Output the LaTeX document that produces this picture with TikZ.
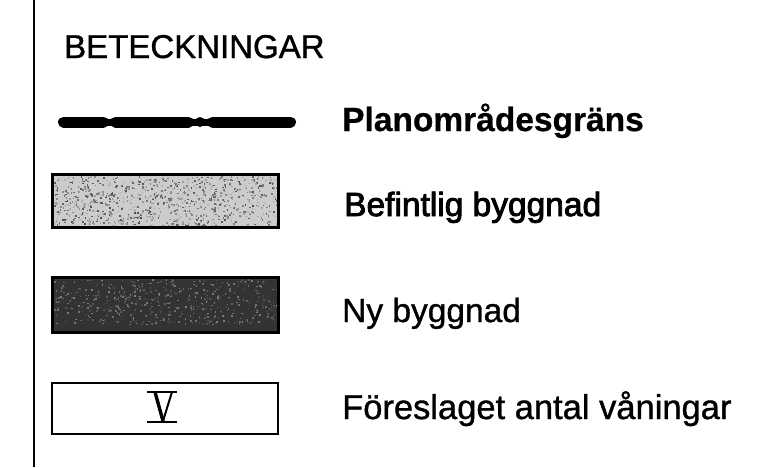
\documentclass[tikz,border=0pt]{standalone}
\usepackage{fontspec}
\setmainfont[FakeBold=1]{Liberation Sans}
\newfontfamily\lblbold[FakeBold=0.6]{Liberation Sans Bold}
\newfontfamily\lblfake[FakeBold=2.6]{Liberation Sans}
\tikzset{
  lbl/.style={anchor=base west, inner sep=0pt, font=\fontsize{33.5}{40}\selectfont},
  boxframe/.style={draw=black, line width=3pt},
}
\begin{document}
\begin{tikzpicture}[x=1pt,y=-1pt]
\useasboundingbox (0,0) rectangle (763,467);
\fill[white] (0,0) rectangle (763,467);
% left rule
\draw[line width=2pt] (34,0) -- (34,467);
% title
\node[anchor=base west, inner sep=0pt, font=\fontsize{33}{38}\selectfont] (title) at (64,58) {BETECKNINGAR};
% plan boundary line
\coordinate (pa) at (63.5,122);
\coordinate (pb) at (103.5,122);
\coordinate (pc) at (115.5,122);
\coordinate (pd) at (188.5,122);
\coordinate (pe) at (212.5,122);
\coordinate (pf) at (290.5,122);
\draw[line width=7pt] (pa) -- (pf);
\draw[line width=11pt, line cap=round] (pa) -- (pb);
\draw[line width=11pt, line cap=round] (pc) -- (pd);
\fill (200,122) circle (5pt);
\draw[line width=11pt, line cap=round] (pe) -- (pf);
\node[lbl, font=\fontsize{33.5}{40}\lblbold] (plan) at (342,131) {Planområdesgräns};
% existing building
\fill[black!20] (52,174) rectangle (278,227);
\pgfmathsetseed{7}
\foreach \i in {1,...,900}{
  \pgfmathsetmacro{\px}{54+222*rnd}
  \pgfmathsetmacro{\py}{176+49*rnd}
  \pgfmathsetmacro{\pg}{25+45*rnd}
  \fill[black!\pg] (\px,\py) rectangle ++(1.6,1.6);
}
\node[boxframe, minimum width=226pt, minimum height=53pt, inner sep=0pt] (befbox) at (165,200.5) {};
\node[lbl, font=\fontsize{33.5}{40}\lblfake] (bef) at (344,216) {Befintlig byggnad};
% new building
\fill[black!80] (52,277) rectangle (278,332);
\foreach \i in {1,...,600}{
  \pgfmathsetmacro{\px}{54+222*rnd}
  \pgfmathsetmacro{\py}{279+45*rnd}
  \pgfmathsetmacro{\pg}{50+30*rnd}
  \fill[black!\pg] (\px,\py) rectangle ++(1.6,1.6);
}
\node[boxframe, minimum width=226pt, minimum height=55pt, inner sep=0pt] (nybox) at (165,304.5) {};
\node[lbl] (ny) at (342,322) {Ny byggnad};
% storeys
\node[draw=black, line width=2pt, minimum width=226pt, minimum height=51pt, inner sep=0pt] (vanbox) at (165,408.5) {};
\coordinate (vt1) at (147,392);
\coordinate (vt2) at (177,392);
\coordinate (vb1) at (147,422);
\coordinate (vb2) at (177,422);
\coordinate (vl) at (155,392);
\coordinate (vr) at (172,392);
\coordinate (vm) at (163,421);
\draw[line width=2.2pt] (vt1) -- (vt2);
\draw[line width=2.4pt] (vb1) -- (vb2);
\draw[line width=3.4pt] (vl) -- (vm);
\draw[line width=2pt] (vr) -- (vm);
\node[lbl, font=\fontsize{34.5}{40}\selectfont] (van) at (342,419) {Föreslaget antal våningar};
\end{tikzpicture}
\end{document}
